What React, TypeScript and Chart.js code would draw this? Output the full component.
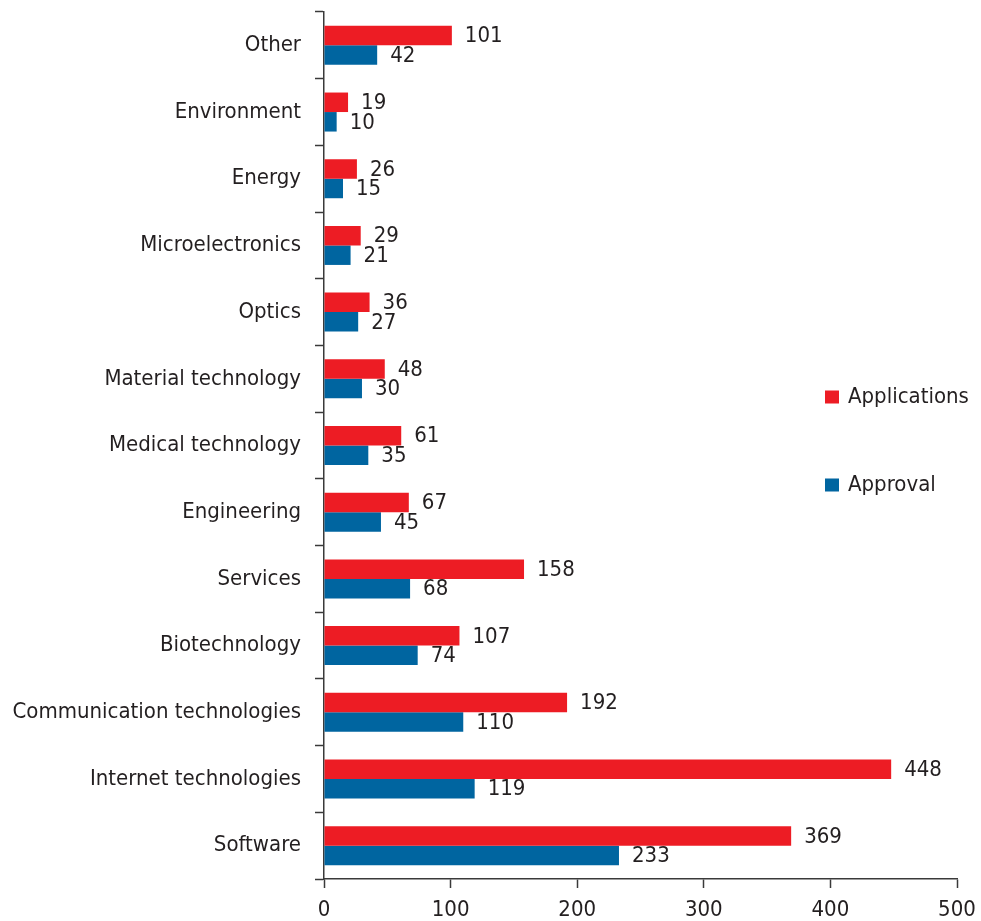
import React, { useEffect, useRef } from "react";
import { Chart, registerables } from "chart.js";

Chart.register(...registerables);

const categories = [
  "Other",
  "Environment",
  "Energy",
  "Microelectronics",
  "Optics",
  "Material technology",
  "Medical technology",
  "Engineering",
  "Services",
  "Biotechnology",
  "Communication technologies",
  "Internet technologies",
  "Software",
];
const applications = [101, 19, 26, 29, 36, 48, 61, 67, 158, 107, 192, 448, 369];
const approval = [42, 10, 15, 21, 27, 30, 35, 45, 68, 74, 110, 119, 233];
const xTicks = [0, 100, 200, 300, 400, 500];

const FONT = "'DejaVu Sans Condensed', 'DejaVu Sans', sans-serif";
const TEXT = "#231f20";
const AXIS = "#3a3a3a";
const RED = "#ed1c24";
const BLUE = "#0065a0";

const valueLabels = {
  id: "valueLabels",
  afterDatasetsDraw(chart: any) {
    const ctx = chart.ctx;
    ctx.save();
    ctx.font = `22px ${FONT}`;
    ctx.fillStyle = TEXT;
    ctx.textAlign = "left";
    ctx.textBaseline = "middle";
    chart.data.datasets.forEach((ds: any, di: number) => {
      const meta = chart.getDatasetMeta(di);
      meta.data.forEach((bar: any, i: number) => {
        ctx.fillText(String(ds.data[i]), bar.x + 13, bar.y + 1);
      });
    });
    ctx.restore();
  },
};

const customLegend = {
  id: "customLegend",
  afterDraw(chart: any) {
    const ctx = chart.ctx;
    ctx.save();
    ctx.font = `22px ${FONT}`;
    ctx.textAlign = "left";
    ctx.textBaseline = "middle";
    const items = [
      { label: chart.data.datasets[0].label, color: RED, y: 397 },
      { label: chart.data.datasets[1].label, color: BLUE, y: 485 },
    ];
    items.forEach((it) => {
      ctx.fillStyle = it.color;
      ctx.fillRect(825, it.y - 6.5, 14, 13);
      ctx.fillStyle = TEXT;
      ctx.fillText(it.label, 848, it.y);
    });
    ctx.restore();
  },
};

export default function App() {
  const ref = useRef<HTMLCanvasElement>(null);
  useEffect(() => {
    if (!ref.current) return;
    const chart = new Chart(ref.current, {
      type: "bar",
      data: {
        labels: categories,
        datasets: [
          {
            label: "Applications",
            data: applications,
            backgroundColor: RED,
            barPercentage: 1,
            categoryPercentage: 0.585,
          },
          {
            label: "Approval",
            data: approval,
            backgroundColor: BLUE,
            barPercentage: 1,
            categoryPercentage: 0.585,
          },
        ],
      },
      options: {
        indexAxis: "y",
        responsive: false,
        animation: false,
        devicePixelRatio: 1,
        layout: { padding: { top: 12, right: 24, left: 0, bottom: 0 } },
        plugins: {
          legend: { display: false },
          tooltip: { enabled: false },
        },
        scales: {
          x: {
            min: 0,
            max: 500,
            afterBuildTicks: (scale: any) => {
              scale.ticks = xTicks.map((v) => ({ value: v }));
            },
            afterFit: (scale: any) => {
              scale.height = 42;
              scale.paddingLeft = 0;
              scale.paddingRight = 0;
            },
            grid: {
              drawOnChartArea: false,
              drawTicks: true,
              tickLength: 9,
              tickColor: AXIS,
              tickWidth: 1.5,
            },
            border: { display: true, color: AXIS, width: 1.5 },
            ticks: {
              color: TEXT,
              font: { family: FONT, size: 22 },
              padding: 9,
              maxRotation: 0,
            },
          },
          y: {
            afterFit: (scale: any) => {
              scale.width = 324;
              scale.paddingTop = 0;
              scale.paddingBottom = 0;
            },
            grid: {
              offset: true,
              drawOnChartArea: false,
              drawTicks: true,
              tickLength: 9,
              tickColor: AXIS,
              tickWidth: 1.5,
            },
            border: { display: true, color: AXIS, width: 1.5 },
            ticks: {
              color: TEXT,
              font: { family: FONT, size: 22 },
              padding: 14,
              autoSkip: false,
            },
          },
        },
      } as any,
      plugins: [valueLabels, customLegend],
    });
    return () => chart.destroy();
  }, []);
  return (
    <div style={{ position: "fixed", left: 0, top: 0, width: 981, height: 921, background: "#fff" }}>
      <canvas ref={ref} width={981} height={921} />
    </div>
  );
}
